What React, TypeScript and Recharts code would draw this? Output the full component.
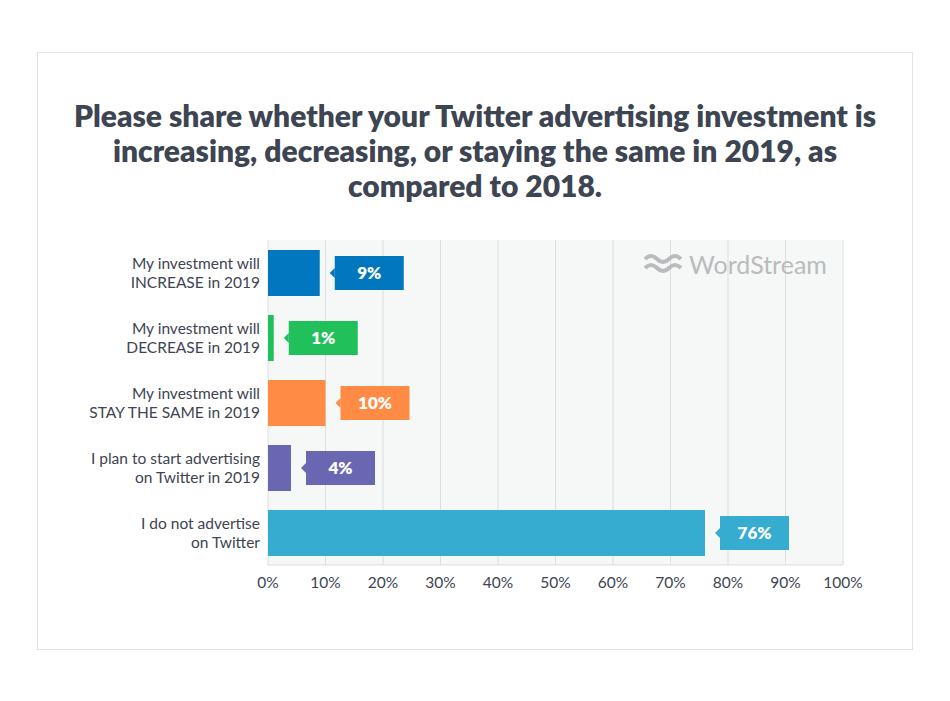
import React from "react";
import { BarChart, Bar, XAxis, YAxis, CartesianGrid, Cell, LabelList } from "recharts";

const categories = [
  ["My investment will", "INCREASE in 2019"],
  ["My investment will", "DECREASE in 2019"],
  ["My investment will", "STAY THE SAME in 2019"],
  ["I plan to start advertising", "on Twitter in 2019"],
  ["I do not advertise", "on Twitter"],
];
const values = [9, 1, 10, 4, 76];
const barColors = ["#0077bf", "#22c05a", "#ff8b45", "#6a67b2", "#35acd0"];
const xTicks = [0, 10, 20, 30, 40, 50, 60, 70, 80, 90, 100];

const data = categories.map((c, i) => ({ name: c.join("|"), value: values[i], color: barColors[i] }));

const textColor = "#3d4452";
const font = "Lato, 'Open Sans', sans-serif";

function CategoryTick(props: any) {
  const { x, y, payload } = props;
  const lines = String(payload.value).split("|");
  return (
    <text x={x} y={y} textAnchor="end" fill={textColor} fontSize={15.5} fontFamily={font}>
      <tspan x={x} dy={-4}>{lines[0]}</tspan>
      <tspan x={x} dy={19}>{lines[1]}</tspan>
    </text>
  );
}

function Callout(props: any) {
  const { x, y, width, height, value, index } = props;
  const bx = x + width + 15;
  const bh = 34;
  const bw = 69;
  const by = y + (height - bh) / 2;
  const cy = y + height / 2;
  const color = barColors[index];
  return (
    <g>
      <rect x={bx} y={by} width={bw} height={bh} fill={color} />
      <path d={`M${bx} ${cy - 5} L${bx - 5} ${cy} L${bx} ${cy + 5} Z`} fill={color} />
      <text x={bx + bw / 2} y={cy + 6} textAnchor="middle" fill="#fff" fontSize={17} fontWeight={800} fontFamily={font}>
        {value}%
      </text>
    </g>
  );
}

export default function App() {
  return (
    <div style={{ position: "absolute", left: 0, top: 0, width: 950, height: 701, background: "#fff", fontFamily: font }}>
      <div style={{ position: "absolute", left: 37, top: 52, width: 874, height: 596, border: "1px solid #e2e2e2" }} />
      <div
        style={{
          position: "absolute",
          left: 0,
          top: 98,
          width: 950,
          textAlign: "center",
          fontSize: 30,
          lineHeight: "35px",
          fontWeight: 800,
          color: textColor,
        }}
      >
        Please share whether your Twitter advertising investment is
        <br />
        increasing, decreasing, or staying the same in 2019, as
        <br />
        compared to 2018.
      </div>
      <div style={{ position: "absolute", left: 0, top: 0 }}>
        <BarChart
          width={950}
          height={701}
          data={data}
          layout="vertical"
          margin={{ top: 240, right: 107, left: 8, bottom: 106 }}
        >
          <CartesianGrid horizontal={false} vertical fill="#f6f7f7" stroke="#dcdedf" />
          <XAxis
            type="number"
            domain={[0, 100]}
            ticks={xTicks}
            tickFormatter={(v) => `${v}%`}
            tick={{ fill: textColor, fontSize: 15.5, fontFamily: font }}
            tickLine={false}
            axisLine={{ stroke: "#dcdedf" }}
            height={30}
            tickMargin={6}
          />
          <YAxis
            type="category"
            dataKey="name"
            width={260}
            tick={<CategoryTick />}
            tickLine={false}
            axisLine={false}
            tickMargin={2}
          />
          <Bar dataKey="value" barSize={46} isAnimationActive={false}>
            {data.map((d, i) => (
              <Cell key={i} fill={d.color} />
            ))}
            <LabelList dataKey="value" content={<Callout />} />
          </Bar>
        </BarChart>
      </div>
      <div style={{ position: "absolute", left: 643, top: 249, display: "flex", alignItems: "center", color: "#b9bbbc" }}>
        <svg width={42} height={24} viewBox="0 0 42 24">
          <path d="M2 7 Q8 1 14 7 T26 7 T38 7" fill="none" stroke="#b9bbbc" strokeWidth={4} />
          <path d="M2 16 Q8 10 14 16 T26 16 T38 16" fill="none" stroke="#b9bbbc" strokeWidth={4} />
        </svg>
        <span style={{ fontSize: 25, marginLeft: 4, fontFamily: font }}>WordStream</span>
      </div>
    </div>
  );
}
